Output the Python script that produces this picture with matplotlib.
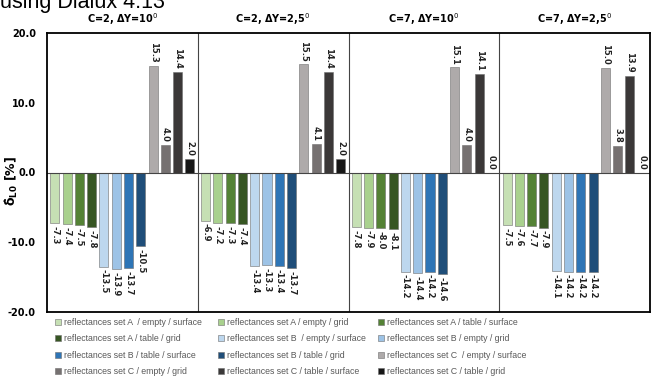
import numpy as np
import matplotlib
matplotlib.use('Agg')
import matplotlib.pyplot as plt

groups = ['C=2, ΔY=10$^0$', 'C=2, ΔY=2,5$^0$', 'C=7, ΔY=10$^0$', 'C=7, ΔY=2,5$^0$']

series = [
    'reflectances set A  / empty / surface',
    'reflectances set A / empty / grid',
    'reflectances set A / table / surface',
    'reflectances set A / table / grid',
    'reflectances set B  / empty / surface',
    'reflectances set B / empty / grid',
    'reflectances set B / table / surface',
    'reflectances set B / table / grid',
    'reflectances set C  / empty / surface',
    'reflectances set C / empty / grid',
    'reflectances set C / table / surface',
    'reflectances set C / table / grid',
]

# one row per group, one value per series
values = [
    [-7.3, -7.4, -7.5, -7.8, -13.5, -13.9, -13.7, -10.5, 15.3, 4.0, 14.4, 2.0],
    [-6.9, -7.2, -7.3, -7.4, -13.4, -13.3, -13.4, -13.7, 15.5, 4.1, 14.4, 2.0],
    [-7.8, -7.9, -8.0, -8.1, -14.2, -14.4, -14.2, -14.6, 15.1, 4.0, 14.1, 0.0],
    [-7.5, -7.6, -7.7, -7.9, -14.1, -14.2, -14.2, -14.2, 15.0, 3.8, 13.9, 0.0],
]

colors = ['#c6e0b4', '#a9d18e', '#548235', '#375623',
          '#bdd7ee', '#9dc3e6', '#2e75b6', '#1f4e79',
          '#aeaaaa', '#767171', '#3b3838', '#161616']

yticks = [-20, -10, 0, 10, 20]

fig = plt.figure(figsize=(6.52, 3.76), dpi=100)
ax = fig.add_axes([47 / 652, 1 - 312 / 376, 603 / 652, 279 / 376])

vals = np.array(values)
x = np.arange(len(groups))
step = 0.0815
width = 0.06
handles = []
for i, name in enumerate(series):
    pos = x + (i - 5.5) * step
    b = ax.bar(pos, vals[:, i], width, color=colors[i], edgecolor='#6f6f6f',
               linewidth=0.4, label=name)
    handles.append(b)
    for xp, v in zip(pos, vals[:, i]):
        if v >= 0:
            ax.text(xp, v + 0.4, f'{v:.1f}', rotation=270, ha='center', va='bottom',
                    fontsize=6, fontweight='bold', color='#222222')
        else:
            ax.text(xp, v - 0.4, f'{v:.1f}', rotation=270, ha='center', va='top',
                    fontsize=6, fontweight='bold', color='#222222')

ax.set_xlim(-0.5, len(groups) - 0.5)
ax.set_ylim(-20, 20)
ax.set_yticks(yticks)
ax.set_yticklabels([f'{t:.1f}' for t in yticks], fontsize=7, fontweight='bold')
ax.set_xticks([])
ax.tick_params(axis='y', length=0, pad=8)
ax.axhline(0, color='#444444', linewidth=0.8)
for g in range(1, len(groups)):
    ax.axvline(g - 0.5, color='#444444', linewidth=0.8)
for s in ax.spines.values():
    s.set_linewidth(1.3)

for g, title in enumerate(groups):
    ax.text(g, 20.8, title, ha='center', va='bottom', fontsize=7, fontweight='bold')

ax.set_ylabel('\u03b4\u0302$_{\\mathbf{L0}}$ [%]', fontsize=9, fontweight='bold')
ax.yaxis.set_label_coords(-0.045, 0.47)

fig.text(0.0, 1 - 8 / 376, 'using Dialux 4.13', fontsize=15.5, ha='left', va='baseline',
         family='Liberation Sans')

# legend in three columns, filled row by row like the original
col_x = [55, 218, 378]
leg_font = {'family': ['Liberation Sans Narrow', 'Liberation Sans'], 'size': 6.3}
for c in range(3):
    idx = [c, c + 3, c + 6, c + 9]
    leg = fig.legend([handles[k] for k in idx], [series[k] for k in idx],
                     loc='upper left', bbox_to_anchor=(col_x[c] / 652, 1 - 318 / 376),
                     frameon=False, prop=leg_font, handlelength=0.7, handleheight=0.7,
                     handletextpad=0.3, labelspacing=0.85,
                     borderaxespad=0, borderpad=0)
    for t in leg.get_texts():
        t.set_color('#595959')

fig.savefig('out.png', dpi=100)
